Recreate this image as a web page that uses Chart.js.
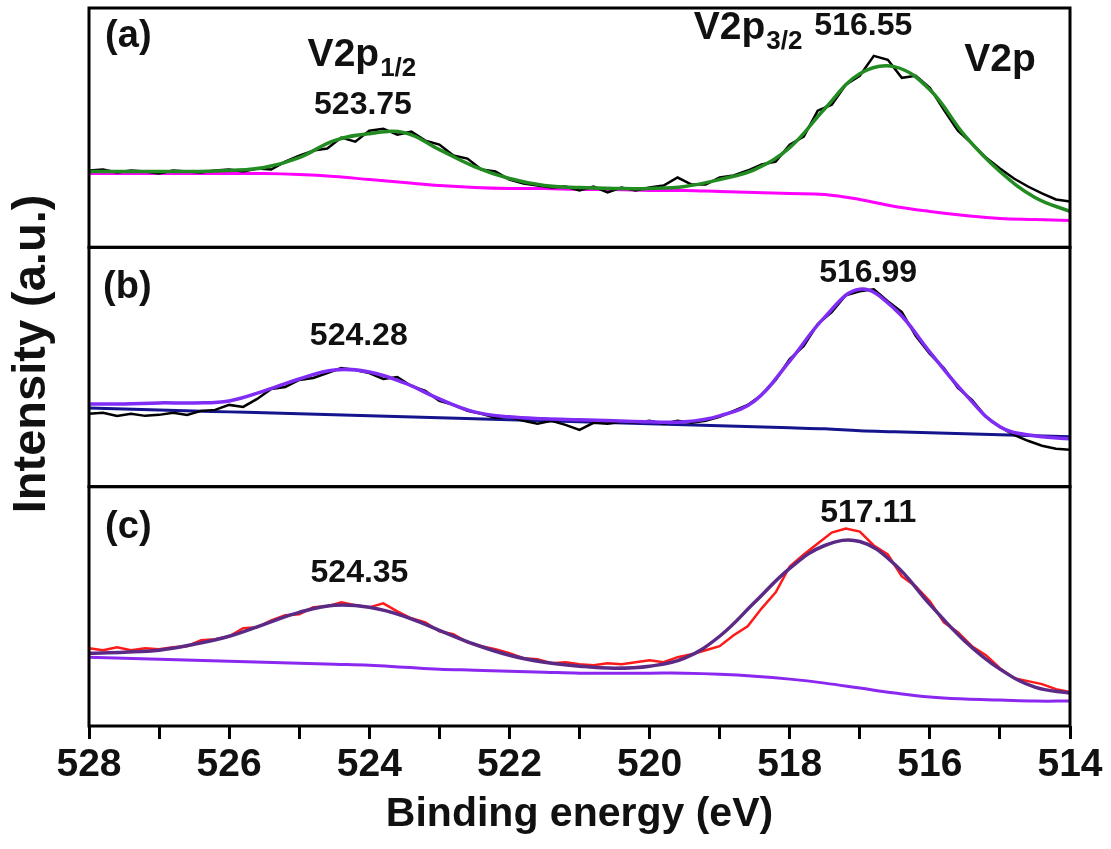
<!DOCTYPE html>
<html>
<head>
<meta charset="utf-8">
<script src="https://cdn.jsdelivr.net/npm/chart.js@4.4.1/dist/chart.umd.min.js"></script>
<style>
  html, body { margin: 0; padding: 0; background: #fff; }
  #wrap { width: 1111px; height: 849px; }
</style>
</head>
<body>
<div id="wrap"><canvas id="chart" width="1111" height="849"></canvas></div>
<script>
const FONT = "'Liberation Sans', Arial, Helvetica, sans-serif";

// binding energy grids (eV)
const rawEnergy = [
  528.0, 527.8, 527.6, 527.4, 527.2, 527.0, 526.8, 526.6, 526.4, 526.2,
  526.0, 525.8, 525.6, 525.4, 525.2, 525.0, 524.8, 524.6, 524.4, 524.2,
  524.0, 523.8, 523.6, 523.4, 523.2, 523.0, 522.8, 522.6, 522.4, 522.2,
  522.0, 521.8, 521.6, 521.4, 521.2, 521.0, 520.8, 520.6, 520.4, 520.2,
  520.0, 519.8, 519.6, 519.4, 519.2, 519.0, 518.8, 518.6, 518.4, 518.2,
  518.0, 517.8, 517.6, 517.4, 517.2, 517.0, 516.8, 516.6, 516.4, 516.2,
  516.0, 515.8, 515.6, 515.4, 515.2, 515.0, 514.8, 514.6, 514.4, 514.2,
  514.0
];
const fitEnergy = [
  528, 527.5, 527, 526.5, 526, 525.5, 525, 524.5, 524, 523.5,
  523, 522.5, 522, 521.5, 521, 520.5, 520, 519.5, 519, 518.5,
  518, 517.5, 517, 516.5, 516, 515.5, 515, 514.5, 514
];
const tickValues = [528, 526, 524, 522, 520, 518, 516, 514];

// (a) measured, envelope, background
const rawA = [
  77, 78, 75, 77, 76, 74, 77, 76, 75, 77,
  78, 76, 79, 78, 86, 92, 97, 99, 110, 106,
  117, 119, 113, 116, 107, 103, 92, 89, 78, 76,
  68, 64, 62, 60, 61, 57, 61, 55, 60, 57,
  60, 62, 70, 63, 63, 70, 72, 77, 83, 86,
  103, 111, 137, 143, 163, 172, 192, 188, 170, 172,
  160, 138, 117, 104, 90, 79, 69, 61, 54, 48,
  46
];
const fitA = [76, 76, 76, 76, 77, 80, 90, 107, 114, 115, 98, 81, 69, 62, 60, 59, 59, 61, 68, 78, 100, 139, 174, 181, 158, 112, 76, 50, 36];
const bgA = [74, 74, 74, 74, 74, 74, 73, 71, 68, 65, 62, 60, 59, 59, 58, 58, 57, 57, 56, 55, 54, 53, 48, 41, 36, 32, 29, 28, 27];

// (b)
const rawB = [
  73, 74, 71, 73, 71, 72, 74, 72, 76, 77,
  82, 80, 88, 98, 100, 107, 109, 114, 119, 117,
  114, 108, 110, 101, 96, 86, 82, 76, 73, 69,
  70, 66, 63, 66, 62, 57, 64, 63, 65, 64,
  66, 63, 66, 64, 66, 70, 76, 82, 92, 107,
  128, 141, 163, 175, 192, 196, 198, 186, 175, 151,
  133, 119, 99, 87, 70, 60, 52, 46, 41, 38,
  37
];
const fitB = [83, 83, 84, 84, 86, 96, 108, 117, 115, 104, 88, 75, 70, 68, 67, 66, 65, 65, 71, 86, 126, 170, 198, 178, 135, 93, 60, 51, 48];
const bgB = [79, 78, 77, 76, 75, 74, 73, 72, 71, 70, 69, 68, 67, 66, 65, 64, 63, 62, 61, 60, 59, 58, 56, 55, 54, 53, 52, 51, 50];

// (c)
const rawC = [
  78, 76, 79, 76, 78, 77, 79, 80, 86, 87,
  90, 98, 99, 106, 111, 112, 119, 120, 124, 121,
  119, 123, 115, 108, 104, 95, 92, 84, 80, 77,
  73, 68, 67, 63, 64, 62, 61, 63, 62, 64,
  66, 64, 69, 72, 76, 80, 91, 100, 118, 134,
  160, 172, 183, 194, 198, 195, 181, 172, 150, 140,
  125, 104, 94, 80, 71, 58, 48, 45, 42, 37,
  34
];
const fitC = [73, 74, 76, 82, 90, 102, 114, 121, 119, 110, 96, 82, 71, 64, 60, 58, 60, 68, 90, 124, 158, 181, 185, 162, 122, 85, 57, 39, 33];
const bgC = [69, 68, 67, 66, 65, 64, 63, 62, 61, 59, 57, 56, 55, 54, 53, 53, 53, 53, 52, 50, 47, 43, 38, 33, 29, 27, 26, 25, 25];

const pts = (xs, ys) => xs.map((x, i) => ({ x: x, y: ys[i] }));

function line(label, xs, ys, axis, color, width, smooth, order) {
  return {
    label: label,
    data: pts(xs, ys),
    yAxisID: axis,
    borderColor: color,
    borderWidth: width,
    pointRadius: 0,
    fill: false,
    tension: smooth ? 0.4 : 0,
    order: order
  };
}

// text put on the panels
const notes = [
  { axis: 'ya', e: 527.77, v: 211, text: '(a)', size: 38, align: 'left' },
  { axis: 'ya', e: 524.09, v: 143, text: '523.75', size: 32, align: 'center' },
  { axis: 'ya', e: 516.95, v: 222, text: '516.55', size: 32, align: 'center' },
  { axis: 'yb', e: 527.8, v: 200, text: '(b)', size: 38, align: 'left' },
  { axis: 'yb', e: 524.15, v: 151, text: '524.28', size: 32, align: 'center' },
  { axis: 'yb', e: 516.88, v: 214, text: '516.99', size: 32, align: 'center' },
  { axis: 'yc', e: 527.77, v: 199, text: '(c)', size: 38, align: 'left' },
  { axis: 'yc', e: 524.14, v: 153, text: '524.35', size: 32, align: 'center' },
  { axis: 'yc', e: 516.88, v: 213, text: '517.11', size: 32, align: 'center' }
];
const orbitals = [
  { axis: 'ya', e: 524.88, v: 182, main: 'V2p', sub: '1/2' },
  { axis: 'ya', e: 519.37, v: 209, main: 'V2p', sub: '3/2' },
  { axis: 'ya', e: 515.51, v: 177, main: 'V2p', sub: '' }
];

const panelFrames = {
  id: 'panelFrames',
  afterDatasetsDraw(chart) {
    const { ctx, chartArea, scales } = chart;
    ctx.save();
    ctx.strokeStyle = '#000';
    ctx.lineWidth = 3;
    ['ya', 'yb', 'yc'].forEach(id => {
      const s = scales[id];
      ctx.strokeRect(chartArea.left, s.top, chartArea.right - chartArea.left, s.bottom - s.top);
    });

    ctx.fillStyle = '#111';
    notes.forEach(n => {
      ctx.font = 'bold ' + n.size + 'px ' + FONT;
      ctx.textAlign = n.align;
      ctx.textBaseline = 'middle';
      ctx.fillText(n.text, scales.x.getPixelForValue(n.e), scales[n.axis].getPixelForValue(n.v));
    });

    orbitals.forEach(o => {
      const x = scales.x.getPixelForValue(o.e);
      const y = scales[o.axis].getPixelForValue(o.v);
      ctx.textAlign = 'left';
      ctx.textBaseline = 'alphabetic';
      ctx.font = 'bold 39px ' + FONT;
      ctx.fillText(o.main, x, y);
      const w = ctx.measureText(o.main).width;
      ctx.font = 'bold 26px ' + FONT;
      ctx.fillText(o.sub, x + w + 1, y + 10);
    });
    ctx.restore();
  }
};

function panelAxis(withTitle) {
  return {
    type: 'linear',
    position: 'left',
    stack: 'panels',
    stackWeight: 1,
    min: 0,
    max: 240,
    grid: { display: false },
    border: { display: false },
    ticks: { display: false },
    title: {
      display: withTitle,
      // two leading spaces lift the centred label a little, as in the figure
      text: '  Intensity (a.u.)',
      color: '#111',
      font: { family: FONT, size: 47, weight: 'bold' },
      padding: { top: 4, bottom: 4 }
    },
    afterFit: (s) => { s.width = 89; }
  };
}

new Chart(document.getElementById('chart').getContext('2d'), {
  type: 'line',
  data: {
    datasets: [
      line('(a) fit', fitEnergy, fitA, 'ya', '#228b22', 3.5, true, 1),
      line('(a) raw', rawEnergy, rawA, 'ya', '#000000', 2.5, false, 2),
      line('(a) background', fitEnergy, bgA, 'ya', '#ff00ff', 3, true, 3),
      line('(b) fit', fitEnergy, fitB, 'yb', '#7f2cf5', 3.5, true, 1),
      line('(b) raw', rawEnergy, rawB, 'yb', '#000000', 2.5, false, 2),
      line('(b) background', fitEnergy, bgB, 'yb', '#14148c', 3, true, 3),
      line('(c) fit', fitEnergy, fitC, 'yc', '#5b2a86', 3.5, true, 1),
      line('(c) raw', rawEnergy, rawC, 'yc', '#ff1a1a', 2.5, false, 2),
      line('(c) background', fitEnergy, bgC, 'yc', '#8b28f0', 3, true, 3)
    ]
  },
  options: {
    responsive: false,
    animation: false,
    devicePixelRatio: 1,
    layout: { padding: { left: 0, right: 41, top: 8, bottom: 0 } },
    plugins: {
      legend: { display: false },
      tooltip: { enabled: false }
    },
    scales: {
      x: {
        type: 'linear',
        position: 'bottom',
        reverse: true,
        min: 514,
        max: 528,
        border: { display: false },
        grid: { drawOnChartArea: false, drawTicks: true, tickLength: 13, tickWidth: 3, tickColor: '#000' },
        ticks: {
          stepSize: 1,
          autoSkip: false,
          maxRotation: 0,
          padding: 3,
          color: '#111',
          font: { family: FONT, size: 39, weight: 'bold' },
          callback: (v) => tickValues.includes(v) ? String(v) : ''
        },
        title: {
          display: true,
          text: 'Binding energy (eV)',
          color: '#111',
          font: { family: FONT, size: 41, weight: 'bold' },
          padding: { top: 4, bottom: 10 }
        },
        afterFit: (s) => { s.height = 123; }
      },
      yc: panelAxis(false),
      yb: panelAxis(true),
      ya: panelAxis(false)
    }
  },
  plugins: [panelFrames]
});
</script>
</body>
</html>
